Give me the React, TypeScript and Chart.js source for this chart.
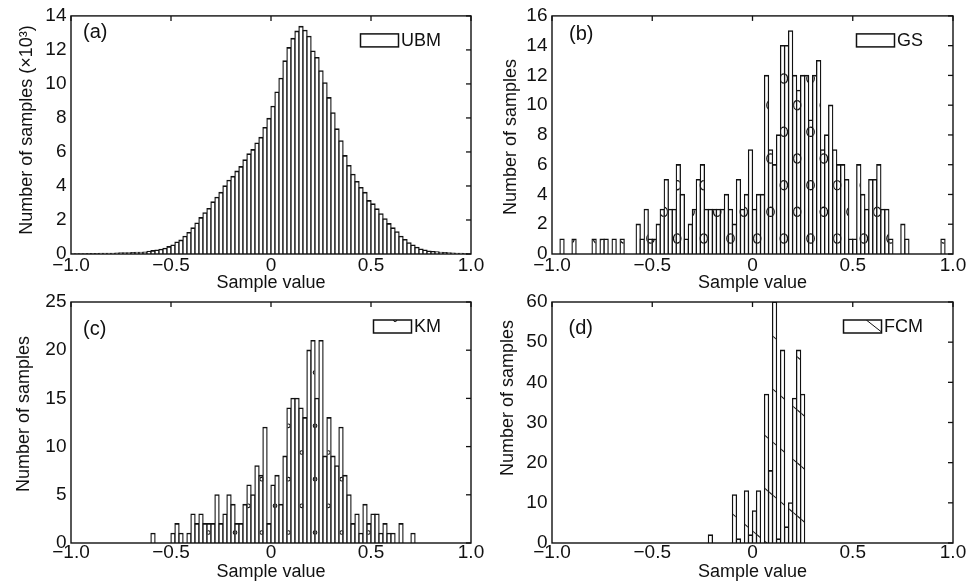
import React, { useEffect, useRef } from "react";
import { Chart, registerables } from "chart.js";

Chart.register(...registerables);

// ---------------- data ----------------
const BIN_CENTERS = [
  -0.99, -0.97, -0.95, -0.93, -0.91, -0.89, -0.87, -0.85, -0.83, -0.81,
  -0.79, -0.77, -0.75, -0.73, -0.71, -0.69, -0.67, -0.65, -0.63, -0.61,
  -0.59, -0.57, -0.55, -0.53, -0.51, -0.49, -0.47, -0.45, -0.43, -0.41,
  -0.39, -0.37, -0.35, -0.33, -0.31, -0.29, -0.27, -0.25, -0.23, -0.21,
  -0.19, -0.17, -0.15, -0.13, -0.11, -0.09, -0.07, -0.05, -0.03, -0.01,
  0.01, 0.03, 0.05, 0.07, 0.09, 0.11, 0.13, 0.15, 0.17, 0.19,
  0.21, 0.23, 0.25, 0.27, 0.29, 0.31, 0.33, 0.35, 0.37, 0.39,
  0.41, 0.43, 0.45, 0.47, 0.49, 0.51, 0.53, 0.55, 0.57, 0.59,
  0.61, 0.63, 0.65, 0.67, 0.69, 0.71, 0.73, 0.75, 0.77, 0.79,
  0.81, 0.83, 0.85, 0.87, 0.89, 0.91, 0.93, 0.95, 0.97, 0.99,
];

const X_TICK_VALUES = [-1, -0.5, 0, 0.5, 1];
const X_TICK_LABELS = ["\u22121.0", "\u22120.5", "0", "0.5", "1.0"];
const X_TITLE = "Sample value";

// (a) UBM, counts in thousands
const UBM_COUNTS_K = [
  0.01, 0.01, 0.01, 0.01, 0.02, 0.02, 0.02, 0.03, 0.03, 0.04,
  0.04, 0.05, 0.06, 0.06, 0.07, 0.08, 0.09, 0.10, 0.11, 0.15,
  0.19, 0.23, 0.27, 0.33, 0.43, 0.52, 0.70, 0.81, 1.04, 1.26,
  1.53, 1.82, 2.13, 2.42, 2.67, 3.06, 3.33, 3.62, 4.00, 4.33,
  4.56, 4.87, 5.13, 5.53, 5.88, 6.13, 6.52, 6.85, 7.43, 7.97,
  8.68, 9.52, 10.33, 11.35, 12.13, 12.67, 13.10, 13.38, 13.15, 12.80,
  11.93, 11.55, 10.77, 10.06, 9.19, 8.30, 7.35, 6.65, 5.78, 5.20,
  4.68, 4.26, 3.90, 3.62, 3.13, 2.94, 2.65, 2.36, 2.07, 1.78,
  1.53, 1.30, 1.04, 0.85, 0.66, 0.52, 0.39, 0.29, 0.23, 0.17,
  0.14, 0.12, 0.10, 0.08, 0.06, 0.05, 0.04, 0.03, 0.02, 0.01,
];

// (b) GS
const GS_COUNTS = [
  0, 0, 1, 0, 0, 1, 0, 0, 0, 0,
  1, 0, 1, 1, 0, 1, 0, 1, 0, 0,
  0, 2, 1, 3, 1, 1, 2, 3, 5, 3,
  3, 6, 4, 1, 2, 3, 5, 6, 3, 3,
  3, 3, 3, 4, 3, 2, 5, 3, 4, 7,
  3, 4, 4, 12, 7, 6, 8, 14, 14, 15,
  12, 11, 12, 12, 9, 12, 13, 7, 8, 10,
  7, 6, 6, 5, 1, 1, 6, 4, 3, 5,
  5, 6, 3, 3, 1, 0, 0, 2, 1, 0,
  0, 0, 0, 0, 0, 0, 0, 1, 0, 0,
];

// (c) KM
const KM_COUNTS = [
  0, 0, 0, 0, 0, 0, 0, 0, 0, 0,
  0, 0, 0, 0, 0, 0, 0, 0, 0, 0,
  1, 0, 0, 0, 0, 1, 2, 1, 0, 1,
  3, 2, 3, 2, 2, 2, 5, 2, 3, 5,
  4, 2, 2, 4, 6, 5, 8, 7, 12, 2,
  6, 7, 4, 9, 14, 15, 15, 14, 13, 20,
  21, 15, 21, 9, 13, 9, 8, 12, 7, 5,
  2, 3, 1, 4, 2, 3, 3, 1, 2, 1,
  1, 0, 2, 0, 0, 1, 0, 0, 0, 0,
  0, 0, 0, 0, 0, 0, 0, 0, 0, 0,
];

// (d) FCM
const FCM_COUNTS = [
  0, 0, 0, 0, 0, 0, 0, 0, 0, 0,
  0, 0, 0, 0, 0, 0, 0, 0, 0, 0,
  0, 0, 0, 0, 0, 0, 0, 0, 0, 0,
  0, 0, 0, 0, 0, 0, 0, 0, 0, 2,
  0, 0, 0, 0, 0, 12, 1, 0, 13, 2,
  8, 13, 0, 37, 18, 60, 1, 48, 4, 10,
  36, 48, 37, 0, 0, 0, 0, 0, 0, 0,
  0, 0, 0, 0, 0, 0, 0, 0, 0, 0,
  0, 0, 0, 0, 0, 0, 0, 0, 0, 0,
  0, 0, 0, 0, 0, 0, 0, 0, 0, 0,
];

const SERIES_NAMES = ["UBM", "GS", "KM", "FCM"];
const PANEL_LETTERS = ["(a)", "(b)", "(c)", "(d)"];
const Y_TITLES = [
  "Number of samples (\u00d710\u00b3)",
  "Number of samples",
  "Number of samples",
  "Number of samples",
];
const Y_MAX = [14, 16, 25, 60];
const Y_STEP = [2, 2, 5, 10];
const SERIES = [UBM_COUNTS_K, GS_COUNTS, KM_COUNTS, FCM_COUNTS];

// ---------------- styles / layout ----------------
const W = 968;
const H = 585;
const FONT_FAMILY = "'Liberation Sans', Arial, Helvetica, sans-serif";
const INK = "#111111";
const Y_AXIS_W = 71;
const X_AXIS_H = 40;
const TICK_LEN = 5;
// bar outline: centred on the bin edges (border inset + equal outward inflation)
const BAR_SIDE = 1.3;
const BAR_TOP = 1.6;
const BAR_INFLATE = 0.65;

const PANEL_STYLE = [
  { area: { left: 71, top: 13, right: 471, bottom: 254 }, xTickPad: 0, letter: { dx: 12, dy: 17 },
    yTitle: { x: 27, y: 130 }, hatch: null },
  { area: { left: 552, top: 13, right: 953, bottom: 254 }, xTickPad: 0, letter: { dx: 17, dy: 18.5 },
    yTitle: { x: 511.5, y: 137 },
    hatch: { kind: "circle", period: 26.67, x0: 18.5, y0: 15.5, rx: 3.7, ry: 4.6, lw: 1.3 } },
  { area: { left: 71, top: 302, right: 471, bottom: 543 }, xTickPad: -2, letter: { dx: 12, dy: 27 },
    yTitle: { x: 24, y: 414 },
    hatch: { kind: "circle", period: 26.67, x0: 4, y0: 10.5, rx: 1.8, ry: 1.8, lw: 1.1 } },
  { area: { left: 552, top: 302, right: 953, bottom: 543 }, xTickPad: -2, letter: { dx: 16.5, dy: 26 },
    yTitle: { x: 508, y: 398 },
    hatch: { kind: "line", slope: 0.85, period: 53, c0: 5.5, lw: 1.1 } },
];

function drawHatch(ctx: CanvasRenderingContext2D, h: any, a: any, r: any) {
  if (h.kind === "circle") {
    const P = h.period;
    for (let row = 0; row < 100; row++) {
      const cy = a.bottom - h.y0 - row * P;
      if (cy < a.top - h.ry - P) break;
      if (cy - h.ry > r.b || cy + h.ry < r.t) continue;
      const off = h.x0 + (row % 2) * (P / 2);
      const kmin = Math.floor((r.l - h.rx - a.left - off) / P);
      const kmax = Math.ceil((r.r + h.rx - a.left - off) / P);
      for (let k = kmin; k <= kmax; k++) {
        const cx = a.left + off + k * P;
        ctx.beginPath();
        ctx.ellipse(cx, cy, h.rx, h.ry, 0, 0, Math.PI * 2);
        ctx.stroke();
      }
    }
  } else {
    const s = h.slope;
    const P = h.period;
    const X1 = r.l - a.left - 1;
    const X2 = r.r - a.left + 1;
    const kmin = Math.floor((r.t - a.top - h.c0 - s * X2) / P) - 1;
    const kmax = Math.ceil((r.b - a.top - h.c0 - s * X1) / P) + 1;
    for (let k = kmin; k <= kmax; k++) {
      ctx.beginPath();
      ctx.moveTo(a.left + X1, a.top + h.c0 + s * X1 + P * k);
      ctx.lineTo(a.left + X2, a.top + h.c0 + s * X2 + P * k);
      ctx.stroke();
    }
  }
}

const decorPlugin = {
  id: "panelDecor",
  afterDatasetsDraw(chart: any, _args: any, opts: any) {
    const hatch = opts.hatch;
    if (!hatch) return;
    const { ctx, chartArea: a } = chart;
    const meta = chart.getDatasetMeta(0);
    ctx.save();
    ctx.strokeStyle = INK;
    ctx.lineWidth = hatch.lw;
    meta.data.forEach((el: any) => {
      const p = el.getProps(["x", "y", "base", "width"], true);
      if (p.base - p.y < 1.5) return;
      const r = {
        l: p.x - p.width / 2 + BAR_SIDE - BAR_INFLATE,
        r: p.x + p.width / 2 - BAR_SIDE + BAR_INFLATE,
        t: p.y + BAR_TOP - BAR_INFLATE,
        b: p.base,
      };
      ctx.save();
      ctx.beginPath();
      ctx.rect(r.l, r.t, r.r - r.l, r.b - r.t);
      ctx.clip();
      drawHatch(ctx, hatch, a, r);
      ctx.restore();
    });
    ctx.restore();
  },
  afterDraw(chart: any, _args: any, opts: any) {
    const { ctx, chartArea: a } = chart;
    const xs = chart.scales.x;
    const ys = chart.scales.y;
    ctx.save();
    // frame
    ctx.strokeStyle = INK;
    ctx.lineWidth = 1.4;
    ctx.strokeRect(a.left, a.top, a.right - a.left, a.bottom - a.top);
    // inward ticks on top and right
    ctx.lineWidth = 1.3;
    xs.ticks.forEach((t: any) => {
      const px = xs.getPixelForValue(t.value);
      ctx.beginPath();
      ctx.moveTo(px, a.top);
      ctx.lineTo(px, a.top + TICK_LEN);
      ctx.stroke();
    });
    ys.ticks.forEach((t: any) => {
      const py = ys.getPixelForValue(t.value);
      ctx.beginPath();
      ctx.moveTo(a.right, py);
      ctx.lineTo(a.right - TICK_LEN, py);
      ctx.stroke();
    });
    // y-axis title
    ctx.fillStyle = INK;
    ctx.font = `18px ${FONT_FAMILY}`;
    ctx.textAlign = "center";
    ctx.textBaseline = "middle";
    ctx.save();
    ctx.translate(opts.yTitle.x, opts.yTitle.y);
    ctx.rotate(-Math.PI / 2);
    ctx.fillText(opts.yTitleText, 0, 0);
    ctx.restore();
    // panel letter
    ctx.font = `20px ${FONT_FAMILY}`;
    ctx.textAlign = "left";
    ctx.fillText(opts.letter, a.left + opts.letterPos.dx, a.top + opts.letterPos.dy);
    // legend
    ctx.font = `18px ${FONT_FAMILY}`;
    const tw = ctx.measureText(opts.name).width;
    const tx = a.right - 30 - tw;
    const bw = 38;
    const bh = 13;
    const bx = tx - 2.5 - bw;
    const by = a.top + 18;
    ctx.fillStyle = "#fff";
    ctx.fillRect(bx, by, bw, bh);
    if (opts.hatch) {
      ctx.save();
      ctx.beginPath();
      ctx.rect(bx, by, bw, bh);
      ctx.clip();
      ctx.lineWidth = 1;
      ctx.strokeStyle = INK;
      if (opts.hatch.kind === "line") {
        ctx.beginPath();
        ctx.moveTo(bx + bw * 0.6, by);
        ctx.lineTo(bx + bw, by + bh * 0.92);
        ctx.stroke();
      } else if (opts.hatch.rx < 3) {
        ctx.beginPath();
        ctx.arc(bx + bw * 0.57, by, 1.6, 0, Math.PI * 2);
        ctx.stroke();
      }
      ctx.restore();
    }
    ctx.lineWidth = 1.5;
    ctx.strokeStyle = INK;
    ctx.strokeRect(bx, by, bw, bh);
    ctx.fillStyle = INK;
    ctx.fillText(opts.name, tx, by + bh / 2 + 0.5);
    ctx.restore();
  },
};

function buildConfig(i: number): any {
  const st = PANEL_STYLE[i];
  const a = st.area;
  const values = SERIES[i];
  const tickFont = { family: FONT_FAMILY, size: 19 };
  const titleFont = { family: FONT_FAMILY, size: 18 };
  return {
    type: "bar",
    data: {
      datasets: [
        {
          label: SERIES_NAMES[i],
          data: BIN_CENTERS.map((x, k) => ({ x, y: values[k] })),
          backgroundColor: "#ffffff",
          borderColor: INK,
          borderWidth: { top: BAR_TOP, left: BAR_SIDE, right: BAR_SIDE, bottom: 0 },
          borderSkipped: "start",
          barPercentage: 1,
          categoryPercentage: 1,
          inflateAmount: BAR_INFLATE,
        },
      ],
    },
    options: {
      animation: false,
      responsive: false,
      maintainAspectRatio: false,
      events: [],
      layout: {
        autoPadding: false,
        padding: {
          left: a.left - Y_AXIS_W,
          top: a.top,
          right: W - a.right,
          bottom: H - a.bottom - X_AXIS_H,
        },
      },
      plugins: {
        legend: { display: false },
        tooltip: { enabled: false },
        panelDecor: {
          hatch: st.hatch,
          letter: PANEL_LETTERS[i],
          letterPos: st.letter,
          name: SERIES_NAMES[i],
          yTitle: st.yTitle,
          yTitleText: Y_TITLES[i],
        },
      },
      scales: {
        x: {
          type: "linear",
          min: -1,
          max: 1,
          offset: false,
          grid: { display: false, drawTicks: false },
          border: { display: false },
          afterBuildTicks: (s: any) => {
            s.ticks = X_TICK_VALUES.map((v) => ({ value: v }));
          },
          ticks: {
            autoSkip: false,
            maxRotation: 0,
            padding: st.xTickPad,
            color: INK,
            font: tickFont,
            callback: (v: any) => {
              const k = X_TICK_VALUES.findIndex((t) => Math.abs(t - Number(v)) < 1e-6);
              return k >= 0 ? X_TICK_LABELS[k] : "";
            },
          },
          title: {
            display: true,
            text: X_TITLE,
            color: INK,
            font: titleFont,
            padding: { top: 0, bottom: 0 },
          },
          afterFit: (s: any) => {
            s.height = X_AXIS_H;
          },
        },
        y: {
          type: "linear",
          min: 0,
          max: Y_MAX[i],
          grid: { display: false, drawTicks: false },
          border: { display: false },
          ticks: {
            stepSize: Y_STEP[i],
            autoSkip: false,
            padding: 4.5,
            color: INK,
            font: tickFont,
          },
          title: { display: false },
          afterFit: (s: any) => {
            s.width = Y_AXIS_W;
          },
        },
      },
    },
    plugins: [decorPlugin],
  };
}

function Panel({ index }: { index: number }) {
  const ref = useRef<HTMLCanvasElement | null>(null);
  useEffect(() => {
    if (!ref.current) return;
    const chart = new Chart(ref.current, buildConfig(index));
    return () => chart.destroy();
  }, [index]);
  return (
    <canvas
      ref={ref}
      width={W}
      height={H}
      style={{ position: "absolute", left: 0, top: 0, width: W, height: H }}
    />
  );
}

export default function App() {
  return (
    <div
      style={{
        position: "absolute",
        left: 0,
        top: 0,
        width: W,
        height: H,
        background: "#ffffff",
        overflow: "hidden",
      }}
    >
      {[0, 1, 2, 3].map((i) => (
        <Panel key={i} index={i} />
      ))}
    </div>
  );
}
